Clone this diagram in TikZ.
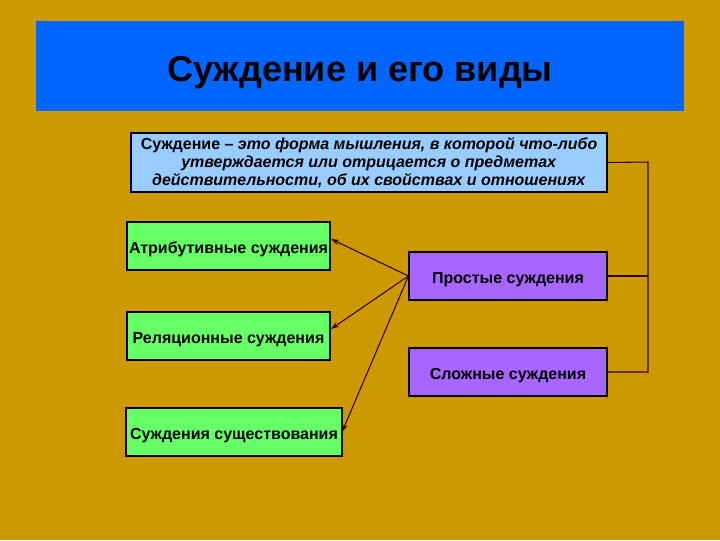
\documentclass[tikz,border=0pt]{standalone}
\usepackage{fontspec}
\setmainfont{Liberation Sans}
\usetikzlibrary{arrows.meta}
\definecolor{bgc}{HTML}{CC9900}
\definecolor{titlec}{HTML}{0066FF}
\definecolor{defc}{HTML}{99CCFF}
\definecolor{greenc}{HTML}{66FF66}
\definecolor{purplec}{HTML}{A866FF}
\definecolor{linec}{HTML}{330000}
\tikzset{
  box/.style={draw=black, line width=0.8pt, inner sep=0pt, text height=10.7pt, text depth=0pt, font=\bfseries\fontsize{12}{14}\selectfont},
  greenbox/.style={box, fill=greenc},
  purplebox/.style={box, fill=purplec},
  conn/.style={draw=linec, line width=0.8pt},
  arr/.style={conn, -{Stealth[length=6pt,width=4pt]}}
}
\begin{document}
\begin{tikzpicture}[x=0.75pt,y=-0.75pt]
\useasboundingbox (0,0) rectangle (720,540);
\fill[bgc] (0,0) rectangle (720,540);
\fill[titlec] (36,21) rectangle (684,111);
\node[inner sep=0pt, font=\bfseries\fontsize{27}{32}\selectfont] (title) at (360,73) {Суждение и его виды};
\node[draw=black, line width=0.8pt, inner sep=0pt, fill=defc, minimum width=476*0.75pt, minimum height=59*0.75pt, align=center, font=\bfseries\fontsize{12}{13.5}\selectfont] (def) at (369,162.5) {Суждение – \textit{это форма мышления, в которой что-либо}\\ \textit{утверждается или отрицается о предметах}\\ \textit{действительности, об их свойствах и отношениях}};
\node[greenbox, minimum width=203*0.75pt, minimum height=48*0.75pt] (attr) at (228.5,246) {Атрибутивные суждения};
\node[greenbox, minimum width=203*0.75pt, minimum height=48*0.75pt] (rel) at (228.5,336) {Реляционные суждения};
\node[greenbox, minimum width=216*0.75pt, minimum height=48*0.75pt] (ex) at (234,432) {Суждения существования};
\node[purplebox, minimum width=198*0.75pt, minimum height=48*0.75pt] (simple) at (508,276) {Простые суждения};
\node[purplebox, minimum width=198*0.75pt, minimum height=48*0.75pt] (complex) at (508,372) {Сложные суждения};
\coordinate (br) at (648,162);
\draw[conn] (def.east) -- (br) |- (complex.east);
\draw[conn] (simple.east) -- (simple.east -| br);
\draw[arr] (simple.west) -- (331,239);
\draw[arr] (simple.west) -- (331,329);
\draw[arr] (simple.west) -- (342,432);
\end{tikzpicture}
\end{document}
